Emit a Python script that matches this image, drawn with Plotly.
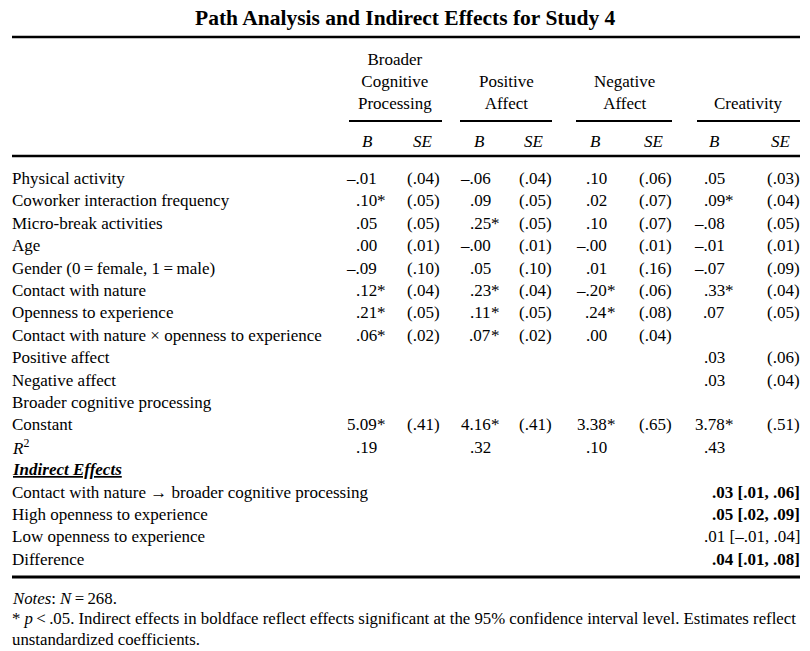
import plotly.graph_objects as go

# ---------------- data ----------------
title = "Path Analysis and Indirect Effects for Study 4"
groups = ["Broader<br>Cognitive<br>Processing", "Positive<br>Affect", "Negative<br>Affect", "Creativity"]
row_labels = [
    "Physical activity",
    "Coworker interaction frequency",
    "Micro-break activities",
    "Age",
    "Gender (0\u2009=\u2009female, 1\u2009=\u2009male)",
    "Contact with nature",
    "Openness to experience",
    "Contact with nature \u00d7 openness to experience",
    "Positive affect",
    "Negative affect",
    "Broader cognitive processing",
    "Constant",
    "<i>R</i><sup>2</sup>",
]
bcp_B = ["–.01", ".10*", ".05", ".00", "–.09", ".12*", ".21*", ".06*", None, None, None, "5.09*", ".19"]
bcp_SE = ["(.04)", "(.05)", "(.05)", "(.01)", "(.10)", "(.04)", "(.05)", "(.02)", None, None, None, "(.41)", None]
pa_B = ["–.06", ".09", ".25*", "–.00", ".05", ".23*", ".11*", ".07*", None, None, None, "4.16*", ".32"]
pa_SE = ["(.04)", "(.05)", "(.05)", "(.01)", "(.10)", "(.04)", "(.05)", "(.02)", None, None, None, "(.41)", None]
na_B = [".10", ".02", ".10", "–.00", ".01", "–.20*", ".24*", ".00", None, None, None, "3.38*", ".10"]
na_SE = ["(.06)", "(.07)", "(.07)", "(.01)", "(.16)", "(.06)", "(.08)", "(.04)", None, None, None, "(.65)", None]
cr_B = [".05", ".09*", "–.08", "–.01", "–.07", ".33*", ".07", None, ".03", ".03", None, "3.78*", ".43"]
cr_SE = ["(.03)", "(.04)", "(.05)", "(.01)", "(.09)", "(.04)", "(.05)", None, "(.06)", "(.04)", None, "(.51)", None]

indirect_labels = [
    "Contact with nature \u2192 broader cognitive processing",
    "High openness to experience",
    "Low openness to experience",
    "Difference",
]
indirect_values = [".03 [.01, .06]", ".05 [.02, .09]", ".01 [–.01, .04]", ".04 [.01, .08]"]
indirect_bold = [True, True, False, True]

notes = [
    "<i>Notes</i>: <i>N</i>\u2009=\u2009268.",
    "* <i>p</i>\u2009<\u2009.05. Indirect effects in boldface reflect effects significant at the 95% confidence interval level. Estimates reflect",
    "unstandardized coefficients.",
]

# ---------------- layout constants ----------------
FONT = "Liberation Serif, Times New Roman, serif"
FS = 17
W, H = 810, 651
LEFT, RIGHT = 12, 800
group_centers = [395, 506, 624, 748]
group_spans = [(349, 442), (460, 552), (576, 672), (697, 800)]
B_end = [377, 491, 607, 725]      # right edge of number (before asterisk)
SE_end = [440, 552, 672, 800]
B_hdr = [367, 479, 595, 714]
SE_hdr = [423, 534, 654, 781]
row_y0, row_dy = 178.5, 22.4

fig = go.Figure()
fig.add_trace(go.Scatter(x=[0], y=[0], mode="markers", marker=dict(opacity=0), hoverinfo="skip", showlegend=False))

ann = []
def text(x, y, s, xanchor="left", size=FS, yanchor="middle"):
    ann.append(dict(x=x, y=y, xref="x", yref="y", text=s, showarrow=False,
                    xanchor=xanchor, yanchor=yanchor, align="center",
                    borderpad=0, borderwidth=0,
                    font=dict(family=FONT, size=size, color="black")))

# title
text(W / 2, 18, "<b>" + title + "</b>", xanchor="center", size=21.5)

# group headers (bottom aligned)
for g, cx in zip(groups, group_centers):
    ann.append(dict(x=cx, y=113, xref="x", yref="y", text=g, showarrow=False,
                    xanchor="center", yanchor="bottom", align="center",
                    borderpad=0, borderwidth=0,
                    font=dict(family=FONT, size=FS, color="black")))

for bx, sx in zip(B_hdr, SE_hdr):
    text(bx, 141.5, "<i>B</i>", xanchor="center")
    text(sx, 141.5, "<i>SE</i>", xanchor="center")

cols = [(bcp_B, bcp_SE), (pa_B, pa_SE), (na_B, na_SE), (cr_B, cr_SE)]
for i, lab in enumerate(row_labels):
    y = row_y0 + i * row_dy
    text(LEFT, y, lab)
    for c, (bl, sl) in enumerate(cols):
        b = bl[i]
        if b is not None:
            star = b.endswith("*")
            num = b.rstrip("*")
            text(B_end[c], y, num, xanchor="right")
            if star:
                text(B_end[c], y, "*", xanchor="left")
        s = sl[i]
        if s is not None:
            text(SE_end[c], y, s, xanchor="right")

y_ie = row_y0 + len(row_labels) * row_dy
text(LEFT, y_ie, "<b><i><u>Indirect Effects</u></i></b>")
for j, (lab, val, bold) in enumerate(zip(indirect_labels, indirect_values, indirect_bold)):
    y = y_ie + (j + 1) * row_dy
    text(LEFT, y, lab)
    text(RIGHT, y, "<b>" + val + "</b>" if bold else val, xanchor="right")

for k, n in enumerate(notes):
    text(LEFT, 598 + k * 20.5, n, size=16.8)

shapes = [
    dict(type="line", xref="x", yref="y", x0=LEFT, x1=RIGHT, y0=37, y1=37, line=dict(color="black", width=2.5)),
    dict(type="line", xref="x", yref="y", x0=LEFT, x1=RIGHT, y0=156, y1=156, line=dict(color="black", width=2.5)),
    dict(type="line", xref="x", yref="y", x0=LEFT, x1=RIGHT, y0=577, y1=577, line=dict(color="black", width=3)),
]
for x0, x1 in group_spans:
    shapes.append(dict(type="line", xref="x", yref="y", x0=x0, x1=x1, y0=121, y1=121, line=dict(color="black", width=2)))

fig.update_layout(
    width=W, height=H,
    margin=dict(l=0, r=0, t=0, b=0),
    paper_bgcolor="white", plot_bgcolor="white",
    xaxis=dict(range=[0, W], visible=False, fixedrange=True),
    yaxis=dict(range=[H, 0], visible=False, fixedrange=True),
    annotations=ann, shapes=shapes, showlegend=False,
)
fig.write_html("out.html", config={"displayModeBar": False},
               post_script="document.body.style.margin='0';document.body.style.overflow='hidden';")
